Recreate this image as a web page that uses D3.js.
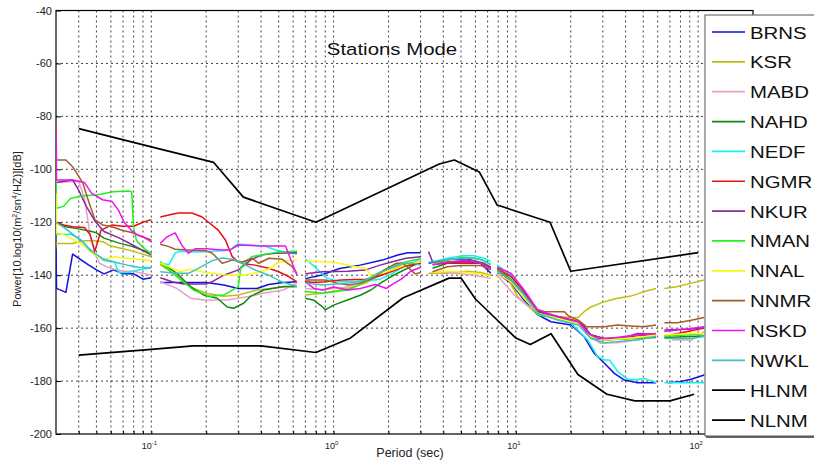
<!DOCTYPE html>
<html>
<head>
<meta charset="utf-8">
<script src="https://cdn.jsdelivr.net/npm/d3@7/dist/d3.min.js"></script>
<style>
  body { margin: 0; background: #fff; }
  svg { font-family: Arial, "Liberation Sans", sans-serif; }
</style>
</head>
<body>
<svg id="chart" width="814" height="471"></svg>
<script>
// stations shown in the legend, in order
const stationNames = ["BRNS", "KSR", "MABD", "NAHD", "NEDF", "NGMR", "NKUR",
    "NMAN", "NNAL", "NNMR", "NSKD", "NWKL", "HLNM", "NLNM"];
const stationColors = ["#1010e0", "#bfbf10", "#e8a0c8", "#108a10", "#10f0f0", "#e81010", "#8a2a9a",
    "#20f020", "#f8f810", "#a85a2a", "#f010f0", "#40c0c0", "#000", "#000"];

const xTicks = [0.1, 1, 10, 100];
const yTicks = [-200, -180, -160, -140, -120, -100, -80, -60, -40];

// [period (s), power (dB)] ; each station is a list of segments (gaps between them)
const BRNS = [
    [[0.03,-130],[0.0302,-145],[0.034,-146.5],[0.037,-132],[0.045,-136],[0.05,-138],[0.055,-139.5],[0.062,-138],[0.07,-139.5],[0.08,-139.5],[0.09,-141.5],[0.1,-141]],
    [[0.112,-142.8],[0.2,-142.8],[0.25,-143.7],[0.3,-145],[0.38,-145],[0.44,-143.5],[0.53,-142.8],[0.63,-142.5]],
    [[0.7,-141.3],[0.85,-140],[1.08,-137.5],[1.4,-136.2],[1.85,-134.3],[2.25,-132.4],[2.55,-131.5],[3.0,-131.5]],
    [[3.32,-135.5],[4.21,-134],[5.4,-133.8],[6.4,-135.5],[7.29,-139.3]],
    [[7.9,-139.3],[9.4,-143],[11.1,-149.4],[13.2,-155],[15.6,-157.6],[20.1,-158.8],[23.7,-163.2],[26.9,-169.5],[30.6,-173.3],[34.7,-177.1],[39.4,-179.6],[46.6,-180.6],[58.8,-180.6]],
    [[68.2,-180.6],[77.3,-180.4],[91.5,-179.3],[108,-177.7]]
];
const KSR = [
    [[0.03,-128],[0.037,-128],[0.042,-127],[0.05,-127],[0.055,-127.5],[0.06,-129],[0.07,-130],[0.08,-131],[0.1,-133]],
    [[0.112,-136],[0.14,-140.5],[0.17,-145],[0.2,-146.8],[0.25,-148],[0.3,-147.5],[0.38,-145.6],[0.53,-144.5],[0.63,-144.3]],
    [[0.7,-147.5],[0.87,-146.8],[1.2,-145],[1.5,-143],[1.8,-140],[2.25,-136.8],[2.75,-135.5],[3.0,-135]],
    [[3.32,-139.3],[4.2,-139.3],[5.4,-138.5],[6.4,-139],[7.29,-140]],
    [[7.9,-137],[9,-141],[10.2,-148],[12.6,-153.8],[16.9,-155.7],[20.1,-156],[22,-156],[23.7,-153.8],[25.8,-152],[30.6,-150],[36.2,-148.7],[42.8,-147.9],[50.7,-146.2],[58.8,-145]],
    [[65.3,-145],[77.3,-144.3],[91.5,-143],[108,-141.8]]
];
const MABD = [
    [[0.03,-105],[0.04,-104.5],[0.043,-111],[0.046,-124],[0.049,-132],[0.052,-135.5],[0.06,-137.5],[0.07,-138.5],[0.08,-138.5],[0.1,-140]],
    [[0.112,-142.5],[0.138,-145],[0.164,-148.7],[0.194,-149.4],[0.26,-149.4],[0.35,-148],[0.41,-146.8],[0.53,-145.6],[0.63,-143]],
    [[0.7,-145],[0.87,-145.5],[1.2,-144.5],[1.5,-142],[1.8,-139],[2.1,-137],[2.5,-135.5],[3.0,-135.5]],
    [[3.49,-139],[4.21,-139],[5.9,-140],[7.29,-141.2]],
    [[7.9,-140],[9.8,-147.5],[11.5,-151.3],[13.5,-154.4],[17,-155.7],[22,-157.5],[25.8,-163.2],[29,-165.7],[36,-165.5],[45,-164.5],[58.8,-163.2]],
    [[72,-164.5],[92,-164.5],[108,-161.3]]
];
const NAHD = [
    [[0.03,-120],[0.034,-121.7],[0.04,-122.5],[0.047,-123.5],[0.05,-124],[0.055,-126],[0.066,-127.8],[0.079,-129.2],[0.1,-131.7]],
    [[0.112,-135],[0.138,-139.3],[0.164,-144.3],[0.194,-147.5],[0.23,-148.7],[0.261,-152],[0.283,-152.5],[0.321,-150.6],[0.35,-148],[0.414,-145.6],[0.533,-144.3],[0.63,-144.3]],
    [[0.7,-148.7],[0.78,-149.5],[0.87,-152],[0.9,-153.1],[1.0,-151.3],[1.19,-149.4],[1.41,-147.5],[1.6,-145.6],[1.81,-143],[2.06,-140.6],[2.33,-138.7],[2.76,-136.2],[3.0,-135.5]],
    [[3.49,-137.4],[4.21,-135.5],[5,-134.8],[5.9,-134.5],[6.7,-135.5],[7.29,-137]],
    [[7.9,-138.5],[9.4,-141.5],[11.1,-147],[13.2,-154],[16.9,-156],[22,-158],[25.8,-163.5],[30.6,-164.5],[39.4,-164],[58.8,-163.5]],
    [[65.3,-163.5],[108,-163]]
];
const NEDF = [
    [[0.03,-124.5],[0.036,-124.5],[0.041,-126.5],[0.045,-129.5],[0.05,-132.5],[0.055,-134.5],[0.063,-135],[0.066,-139],[0.075,-139],[0.085,-138],[0.1,-137.2]],
    [[0.112,-135.5],[0.125,-136],[0.135,-131.7],[0.142,-131],[0.18,-131.2],[0.245,-130.8],[0.27,-130.5],[0.296,-128.2],[0.35,-128.6],[0.42,-129],[0.48,-130.5],[0.57,-131.5],[0.63,-132]],
    [[0.7,-134],[0.77,-136.2],[0.84,-138.7],[0.92,-141.2],[1.1,-142.5],[1.4,-142.5],[1.8,-141.5],[2.1,-139.3],[2.5,-136.2],[2.8,-134.9],[3.0,-133.6]],
    [[3.32,-135],[3.49,-134.9],[4.21,-133.6],[5,-132.7],[5.9,-132.7],[6.7,-133.6],[7.29,-134.9]],
    [[7.9,-136.2],[9.4,-140],[11.1,-146.8],[13.2,-153.8],[16.2,-156.3],[20.1,-158.2],[24.8,-164.5],[28.1,-170.8],[30.6,-172],[32.6,-172],[36.2,-176.4],[41.1,-179.3],[46,-179.5],[50.7,-179],[58.8,-180.6]],
    [[65.3,-180.6],[108,-180.6]]
];
const NGMR = [
    [[0.03,-120],[0.033,-121],[0.037,-121.7],[0.043,-122],[0.046,-124.5],[0.049,-131],[0.053,-123],[0.061,-121],[0.07,-121.5],[0.08,-121.5],[0.09,-120],[0.1,-119]],
    [[0.112,-118],[0.13,-117],[0.141,-116.5],[0.167,-116.5],[0.19,-118],[0.206,-120],[0.233,-123],[0.255,-126.7],[0.278,-133],[0.3,-135],[0.33,-135.8],[0.37,-136.2],[0.44,-137.4],[0.5,-138.7],[0.57,-140.6],[0.63,-142.5]],
    [[0.7,-142.5],[0.8,-142.8],[0.9,-142.5],[1.1,-141.8],[1.5,-141.5],[1.75,-140.5],[2.1,-138.5],[2.5,-136.5],[3.0,-135.5]],
    [[3.49,-136],[4.21,-135.5],[5,-135.5],[6.42,-135.5],[7.29,-137.4]],
    [[7.9,-137.4],[9.4,-140.5],[11.1,-146],[13.2,-153.5],[16.9,-155.5],[22,-157.5],[25.8,-162.5],[30.6,-164],[39.4,-163.5],[46.6,-162.8],[58.8,-162.5]],
    [[65.3,-163],[77.3,-162],[91.5,-161],[108,-160]]
];
const NKUR = [
    [[0.03,-105],[0.037,-104],[0.04,-108],[0.044,-114],[0.049,-119.5],[0.055,-123.5],[0.067,-126],[0.079,-128.6],[0.1,-132.4]],
    [[0.112,-141],[0.13,-142.5],[0.15,-143.3],[0.2,-143.3],[0.215,-142.5],[0.25,-140],[0.3,-138],[0.35,-134.3],[0.4,-132.4],[0.48,-131.7],[0.63,-131.5]],
    [[0.7,-139.5],[0.87,-138.7],[1.2,-138.5],[1.5,-138],[1.8,-136.2],[2.1,-134.9],[2.5,-133.6],[3.0,-133]],
    [[3.32,-131.1],[3.49,-134.9],[4.21,-135],[5.43,-135],[6.42,-135.5],[7.29,-137]],
    [[7.9,-137.8],[11.1,-146.8],[13.2,-154],[16.9,-155.7],[23,-158.2],[25.8,-162.6],[30.6,-163.9],[39.4,-163.5],[46.6,-162],[58.8,-162.3]],
    [[65.3,-160.7],[91.5,-160.3],[108,-159.8]]
];
const NMAN = [
    [[0.03,-96],[0.0302,-114.7],[0.033,-114],[0.036,-111],[0.042,-110],[0.05,-109.7],[0.062,-108.5],[0.075,-108.2],[0.078,-108.5],[0.08,-122],[0.083,-127],[0.09,-129.5],[0.1,-132]],
    [[0.112,-135.5],[0.125,-138],[0.145,-141.8],[0.17,-145.6],[0.21,-148],[0.25,-147.5],[0.3,-144.3],[0.31,-137],[0.355,-133],[0.5,-131.2],[0.63,-131]],
    [[0.7,-146.2],[0.87,-146.8],[1.2,-145.6],[1.45,-143],[1.75,-139.3],[2.05,-136.8],[2.35,-135.5],[2.75,-134.3],[3.0,-134]],
    [[3.49,-136],[4.21,-134.5],[5,-133.2],[5.9,-133.5],[6.7,-134.5],[7.29,-136]],
    [[7.9,-138],[9.4,-141.5],[11.1,-147.5],[13.2,-155],[16.9,-156.3],[22,-158.2],[25.8,-163.5],[30.6,-164.5],[39.4,-164],[46.6,-163.7],[58.8,-162.8]],
    [[65.3,-163],[91.5,-162.5],[108,-162]]
];
const NNAL = [
    [[0.03,-109],[0.0302,-124],[0.034,-125],[0.037,-126.5],[0.042,-128.5],[0.048,-132],[0.055,-134],[0.063,-133],[0.07,-133.5],[0.085,-134],[0.1,-134.5]],
    [[0.112,-135.3],[0.13,-137.4],[0.145,-138.7],[0.16,-137.8],[0.2,-139],[0.26,-140],[0.33,-140],[0.4,-138.7],[0.45,-137.4],[0.5,-135],[0.6,-134.3],[0.63,-134]],
    [[0.7,-134.8],[0.78,-134.8],[1.0,-135],[1.25,-136.5],[1.5,-137.5],[1.6,-140],[1.9,-139],[2.3,-137],[2.6,-135.5],[3.0,-135]],
    [[3.49,-139],[4.21,-138.5],[5.43,-139],[6.42,-139.5],[7.29,-140.5]],
    [[7.9,-139.5],[9.4,-142.5],[11.1,-148.7],[13.2,-154.4],[16.9,-156.3],[22,-158.2],[25.8,-163.2],[30.6,-164.5],[39.4,-163.9],[46.6,-163.5],[58.8,-162.6]],
    [[65.3,-162.6],[91.5,-162],[108,-162]]
];
const NNMR = [
    [[0.03,-82.5],[0.0302,-96.5],[0.034,-96.5],[0.037,-99],[0.042,-105],[0.0455,-112.5],[0.049,-119],[0.054,-121],[0.061,-121.7],[0.069,-123],[0.079,-124],[0.089,-125.5],[0.1,-126.7]],
    [[0.112,-128.3],[0.125,-129.2],[0.135,-130.2],[0.16,-130.5],[0.2,-130.8],[0.216,-131.7],[0.245,-135.5],[0.278,-134.3],[0.315,-135],[0.357,-133.6],[0.389,-135.5],[0.441,-133.6],[0.523,-134],[0.593,-136.8],[0.63,-139.3]],
    [[0.7,-141.8],[0.9,-141.8],[1.05,-143],[1.2,-143.7],[1.4,-143],[1.65,-141.2],[1.9,-138],[2.2,-135.5],[2.4,-135.5],[2.65,-138],[2.8,-139.5],[3.0,-139]],
    [[3.49,-138.7],[4.21,-136.8],[5,-136.3],[6.4,-136.3],[7.29,-138]],
    [[7.9,-137.4],[9.2,-141.2],[10.8,-146.2],[13,-153],[14.5,-153.8],[18.5,-153.8],[19.5,-155.5],[22,-157],[24.5,-159.5],[30.6,-159.5],[36,-158.8],[43,-159.2],[50,-159.5],[58.8,-158.8]],
    [[65.3,-158],[77,-158],[91.5,-157],[108,-156]]
];
const NSKD = [
    [[0.03,-86],[0.0302,-104],[0.037,-104],[0.043,-105],[0.047,-109],[0.054,-111.5],[0.061,-112.2],[0.066,-115.4],[0.071,-120],[0.079,-123.6],[0.085,-125],[0.09,-125.5],[0.1,-127.3]],
    [[0.112,-128],[0.122,-125.5],[0.135,-124],[0.148,-129],[0.16,-131.7],[0.175,-130],[0.2,-130],[0.245,-130.5],[0.27,-130.5],[0.3,-128.6],[0.4,-129],[0.545,-129],[0.593,-135.5],[0.63,-140]],
    [[0.7,-142.5],[0.78,-145],[0.87,-145.6],[1.0,-144.5],[1.2,-145.6],[1.4,-145],[1.7,-143.5],[1.95,-145],[2.1,-143.5],[2.35,-141.5],[2.65,-138.5],[3.0,-137]],
    [[3.49,-136.2],[4.21,-135],[5.43,-134.3],[6.42,-135.5],[7.29,-137.4]],
    [[7.9,-137],[9.4,-139.3],[11.1,-145.6],[13.2,-153.1],[16.9,-155.7],[22,-157.6],[24.8,-162],[28.1,-163.9],[32,-163.9],[39.4,-163.2],[46.6,-162.6],[58.8,-162]],
    [[65.3,-161.3],[91.5,-160.1],[108,-159.5]]
];
const NWKL = [
    [[0.03,-120],[0.034,-122.5],[0.037,-124.5],[0.042,-127.5],[0.046,-130.5],[0.055,-134],[0.065,-135.3],[0.075,-136.3],[0.085,-137],[0.1,-137.2]],
    [[0.112,-138.7],[0.135,-139.3],[0.16,-139.3],[0.18,-137.5],[0.216,-134.5],[0.245,-133.5],[0.28,-134],[0.315,-135.5],[0.37,-138],[0.44,-140],[0.52,-142.5],[0.63,-144.3]],
    [[0.7,-143],[0.87,-143.7],[1.2,-143],[1.5,-141.8],[1.75,-139.3],[2.05,-137.4],[2.4,-135.5],[2.75,-135.5],[3.0,-136.2]],
    [[3.49,-134.9],[4.21,-134],[5.43,-133.5],[6.42,-134],[7.29,-136]],
    [[7.9,-138.5],[9.4,-141.8],[11.1,-147.5],[13.2,-154.4],[16.9,-156.9],[22,-158.8],[25.8,-163.9],[30.6,-165.5],[36.2,-165.1],[46.6,-164.5],[58.8,-163.2]],
    [[65.3,-163.9],[91.5,-163.9],[108,-163.2]]
];
// Peterson noise models as drawn
const HLNM = [
    [[0.04,-84.6],[0.1,-91.5],[0.22,-97.4],[0.32,-110.5],[0.8,-120.0],[3.8,-98.0],[4.6,-96.5],[6.3,-101.0],[7.9,-113.5],[15.4,-120.0],[20,-138.5],[100,-131.5]]
];
const NLNM = [
    [[0.04,-170.2],[0.1,-168.0],[0.17,-166.7],[0.4,-166.7],[0.8,-169.2],[1.24,-163.7],[2.4,-148.6],[4.3,-141.1],[5.0,-141.1],[6.0,-149.0],[10,-163.75],[12,-166.2],[15.6,-162.1],[21.9,-177.5],[31.6,-185.0],[45,-187.5],[70,-187.5],[95,-185.0]]
];
const allSeries = [BRNS, KSR, MABD, NAHD, NEDF, NGMR, NKUR, NMAN, NNAL, NNMR, NSKD, NWKL, HLNM, NLNM];

const svg = d3.select('#chart');
const plotLeft = 56, plotRight = 753, plotTop = 10.5, plotBottom = 434;
const stretch = 1.2; // text in the source image is drawn wide

const x = d3.scaleLog().domain([0.03, 200]).range([plotLeft, plotRight]);
const y = d3.scaleLinear().domain([-200, -40]).range([plotBottom, plotTop]);

svg.append('rect').attr('width', 814).attr('height', 471).attr('fill', '#fff');

svg.append('defs').append('clipPath').attr('id', 'plotclip')
    .append('rect')
    .attr('x', plotLeft).attr('y', plotTop)
    .attr('width', plotRight - plotLeft).attr('height', plotBottom - plotTop);

// grid
let grid = svg.append('g').attr('class', 'grid');
let minor = x.ticks().filter(t => x(t) > plotLeft + 1 && x(t) < plotRight - 1);
grid.selectAll('.vgrid')
    .data(minor)
    .enter().append('line')
    .attr('x1', d => x(d)).attr('x2', d => x(d))
    .attr('y1', plotTop).attr('y2', plotBottom)
    .attr('stroke', '#111')
    .attr('stroke-width', 0.8)
    .attr('stroke-dasharray', '2,3');
grid.selectAll('.hgrid')
    .data(yTicks.filter(t => t > -200 && t < -40))
    .enter().append('line')
    .attr('x1', plotLeft).attr('x2', plotRight)
    .attr('y1', d => y(d)).attr('y2', d => y(d))
    .attr('stroke', '#111')
    .attr('stroke-width', 0.8)
    .attr('stroke-dasharray', '2,3');

// axes (inward ticks, matlab style)
let xAxis = svg.append('g')
    .attr('transform', 'translate(0,' + plotBottom + ')')
    .call(d3.axisBottom(x).tickValues(minor).tickSize(-3).tickFormat(''));
let yAxis = svg.append('g')
    .attr('transform', 'translate(' + plotLeft + ',0)')
    .call(d3.axisLeft(y).tickValues(yTicks).tickSize(-5).tickFormat(''));
[xAxis, yAxis].forEach(a => {
    a.select('.domain').remove();
    a.selectAll('line').attr('stroke', '#000');
});

svg.append('rect')
    .attr('x', plotLeft).attr('y', plotTop)
    .attr('width', plotRight - plotLeft).attr('height', plotBottom - plotTop)
    .attr('fill', 'none')
    .attr('stroke', '#000')
    .attr('stroke-width', 1.2);

// tick labels
svg.append('g').selectAll('text')
    .data(yTicks)
    .enter().append('text')
    .attr('x', plotLeft - 4)
    .attr('y', d => y(d) + 4)
    .attr('text-anchor', 'end')
    .attr('font-size', 11)
    .attr('fill', '#222')
    .text(d => d);

let xl = svg.append('g').selectAll('text')
    .data(xTicks)
    .enter().append('text')
    .attr('x', d => x(d) - 2)
    .attr('y', plotBottom + 15)
    .attr('text-anchor', 'middle')
    .attr('font-size', 9)
    .attr('fill', '#222');
xl.append('tspan').text('10');
xl.append('tspan').attr('dy', -4).attr('font-size', 6).text(d => Math.round(Math.log10(d)));

// series
const line = d3.line().x(d => x(d[0])).y(d => y(d[1]));
let plot = svg.append('g').attr('clip-path', 'url(#plotclip)');
allSeries.forEach((segs, i) => {
    plot.append('g')
        .selectAll('path')
        .data(segs)
        .enter().append('path')
        .attr('d', line)
        .attr('fill', 'none')
        .attr('stroke', stationColors[i])
        .attr('stroke-width', i >= 12 ? 1.7 : 1.5)
        .attr('stroke-linejoin', 'round');
});

// titles
svg.append('text')
    .attr('transform', 'translate(392,55) scale(' + stretch + ',1)')
    .attr('text-anchor', 'middle')
    .attr('font-size', 17)
    .attr('fill', '#111')
    .text('Stations Mode');

svg.append('text')
    .attr('x', 410).attr('y', 457)
    .attr('text-anchor', 'middle')
    .attr('font-size', 12.5)
    .attr('fill', '#222')
    .text('Period (sec)');

let ylab = svg.append('text')
    .attr('transform', 'translate(21,229) rotate(-90)')
    .attr('text-anchor', 'middle')
    .attr('font-size', 11)
    .attr('fill', '#222');
ylab.append('tspan').text('Power[10.log10(m');
ylab.append('tspan').attr('dy', -4).attr('font-size', 7).text('2');
ylab.append('tspan').attr('dy', 4).text('/sn');
ylab.append('tspan').attr('dy', -4).attr('font-size', 7).text('4');
ylab.append('tspan').attr('dy', 4).text('/HZ)][dB]');

// legend
let legend = svg.append('g');
legend.append('rect')
    .attr('x', 706).attr('y', 16)
    .attr('width', 120).attr('height', 422)
    .attr('fill', '#666');
legend.append('rect')
    .attr('x', 705).attr('y', 15)
    .attr('width', 120).attr('height', 421)
    .attr('fill', '#fff')
    .attr('stroke', '#555')
    .attr('stroke-width', 1);
let items = legend.selectAll('.item')
    .data(stationNames)
    .enter().append('g')
    .attr('transform', (d, i) => 'translate(0,' + (32 + i * 29.85) + ')');
items.append('line')
    .attr('x1', 712).attr('x2', 745)
    .attr('stroke', (d, i) => stationColors[i])
    .attr('stroke-width', 1.7);
items.append('text')
    .attr('transform', 'translate(750,6.5) scale(' + stretch + ',1)')
    .attr('font-size', 17)
    .attr('fill', '#111')
    .text(d => d);
</script>
</body>
</html>
